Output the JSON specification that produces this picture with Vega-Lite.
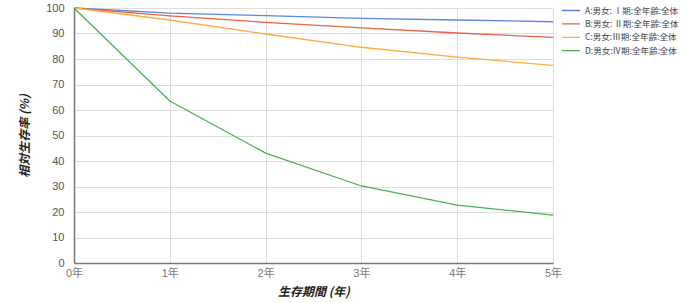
{
  "$schema": "https://vega.github.io/schema/vega-lite/v6.json",
  "width": 479,
  "height": 255,
  "autosize": "none",
  "padding": {"left": 74, "top": 8, "right": 139, "bottom": 40},
  "background": "white",
  "config": {
    "font": "Noto Sans CJK JP",
    "view": {"stroke": null}
  },
  "data": {
    "values": [
      {"year": 0, "value": 100, "series": "A:男女: Ⅰ期:全年齢:全体"},
      {"year": 1, "value": 98.0, "series": "A:男女: Ⅰ期:全年齢:全体"},
      {"year": 2, "value": 97.0, "series": "A:男女: Ⅰ期:全年齢:全体"},
      {"year": 3, "value": 95.9, "series": "A:男女: Ⅰ期:全年齢:全体"},
      {"year": 4, "value": 95.3, "series": "A:男女: Ⅰ期:全年齢:全体"},
      {"year": 5, "value": 94.6, "series": "A:男女: Ⅰ期:全年齢:全体"},
      {"year": 0, "value": 100, "series": "B:男女: Ⅱ期:全年齢:全体"},
      {"year": 1, "value": 96.9, "series": "B:男女: Ⅱ期:全年齢:全体"},
      {"year": 2, "value": 94.4, "series": "B:男女: Ⅱ期:全年齢:全体"},
      {"year": 3, "value": 92.2, "series": "B:男女: Ⅱ期:全年齢:全体"},
      {"year": 4, "value": 90.2, "series": "B:男女: Ⅱ期:全年齢:全体"},
      {"year": 5, "value": 88.5, "series": "B:男女: Ⅱ期:全年齢:全体"},
      {"year": 0, "value": 100, "series": "C:男女:Ⅲ期:全年齢:全体"},
      {"year": 1, "value": 95.3, "series": "C:男女:Ⅲ期:全年齢:全体"},
      {"year": 2, "value": 89.8, "series": "C:男女:Ⅲ期:全年齢:全体"},
      {"year": 3, "value": 84.6, "series": "C:男女:Ⅲ期:全年齢:全体"},
      {"year": 4, "value": 80.7, "series": "C:男女:Ⅲ期:全年齢:全体"},
      {"year": 5, "value": 77.5, "series": "C:男女:Ⅲ期:全年齢:全体"},
      {"year": 0, "value": 100, "series": "D:男女:Ⅳ期:全年齢:全体"},
      {"year": 1, "value": 63.5, "series": "D:男女:Ⅳ期:全年齢:全体"},
      {"year": 2, "value": 43.1, "series": "D:男女:Ⅳ期:全年齢:全体"},
      {"year": 3, "value": 30.2, "series": "D:男女:Ⅳ期:全年齢:全体"},
      {"year": 4, "value": 22.7, "series": "D:男女:Ⅳ期:全年齢:全体"},
      {"year": 5, "value": 18.8, "series": "D:男女:Ⅳ期:全年齢:全体"}
    ]
  },
  "mark": {"type": "line", "strokeWidth": 1.3},
  "encoding": {
    "x": {
      "field": "year",
      "type": "quantitative",
      "scale": {"domain": [0, 5], "nice": false, "zero": false},
      "axis": {
        "values": [0, 1, 2, 3, 4, 5],
        "labelExpr": "datum.value + '年'",
        "title": "生存期間 (年)",
        "titleFontStyle": "italic",
        "titleFontWeight": "bold",
        "titleFontSize": 12,
        "titleColor": "#222",
        "titlePadding": 8,
        "labelFont": "Liberation Sans, Noto Sans CJK JP",
        "labelFontSize": 11,
        "labelColor": "#777",
        "labelPadding": 4,
        "ticks": false,
        "domainColor": "#777",
        "domainWidth": 1.5,
        "gridColor": "#dddddd",
        "labelFlush": false
      }
    },
    "y": {
      "field": "value",
      "type": "quantitative",
      "scale": {"domain": [0, 100], "nice": false},
      "axis": {
        "values": [0, 10, 20, 30, 40, 50, 60, 70, 80, 90, 100],
        "title": "相対生存率 (%)",
        "titleFontStyle": "italic",
        "titleFontWeight": "bold",
        "titleFontSize": 12,
        "titleColor": "#222",
        "titlePadding": 14,
        "labelFont": "Liberation Sans",
        "labelFontSize": 11,
        "labelColor": "#555",
        "labelPadding": 10,
        "ticks": false,
        "domainColor": "#777",
        "domainWidth": 1.5,
        "gridColor": "#dddddd"
      }
    },
    "color": {
      "field": "series",
      "type": "nominal",
      "scale": {
        "range": ["#5b85e0", "#e8634a", "#ffab40", "#4caf50"]
      },
      "legend": {
        "title": null,
        "orient": "none",
        "legendX": 487,
        "legendY": -4,
        "symbolType": "stroke",
        "symbolSize": 330,
        "symbolStrokeWidth": 1.3,
        "clipHeight": 13,
        "labelFontSize": 8.5,
        "labelColor": "#444",
        "rowPadding": 0.4,
        "labelOffset": 4
      }
    }
  }
}
